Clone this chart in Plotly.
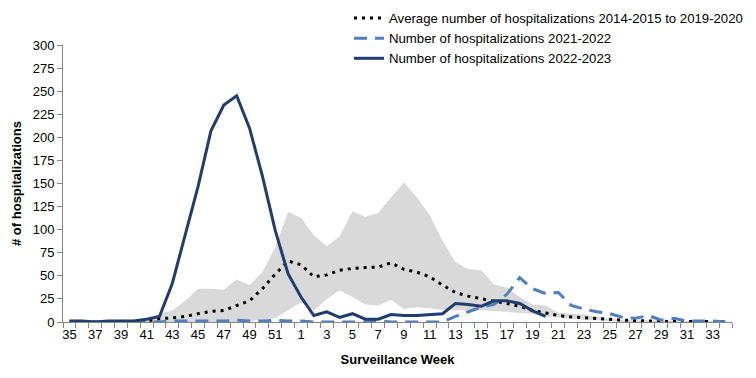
import plotly.graph_objects as go

weeks = [str(w) for w in list(range(35, 53)) + list(range(1, 35))]

avg_2014_2020 = [0, 0, 0, 0, 0, 0, 1, 3.5, 4.5, 6, 9, 11.5, 12.5, 18, 23, 36, 52, 66,
                 62, 49, 51, 56, 58, 59, 59.5, 64, 57, 54, 49, 40, 32, 28, 25, 22.5, 20, 17,
                 12.5, 9.5, 7, 5.5, 4.5, 3.3, 2.5, 2, 1.5, 1, 1, 0.5, 0.5, 0.5, 0.5, 0.5]

hosp_2021_2022 = [0, 0, 0, 0, 0, 0, 0, 0, 1, 1, 1, 1, 1, 2, 1, 1, 2, 1,
                  1, 0, 0, 0, 0, 0, 1, 0, 0, 0, 0, 0, 6, 11, 16, 19, 30, 48,
                  36, 31, 32, 18, 14, 11, 9, 5, 4, 7, 2, 4, 1, 1, 1, 0]

hosp_2022_2023 = [1, 1, 0, 1, 1, 1, 3, 6, 42, 93, 147, 207, 235, 245, 210, 158, 99, 52,
                  27, 7, 11, 5, 9, 3, 3, 8, 7, 7, 8, 9, 20, 19, 17, 23, 23, 20,
                  12, 6] + [None] * 14

band_max = [1, 1, 1, 1, 1, 2, 3, 9, 12.5, 23, 36, 36, 35, 46, 40, 54, 81, 119,
            113, 94, 82, 93, 120, 114, 118, 135, 151, 135, 116, 88, 65, 57, 56, 41, 37, 27,
            19, 18, 10, 9, 8, 6, 3.5, 2.5, 2, 1.5, 1.5, 1, 1, 1, 1, 1]

band_min = [0, 0, 0, 0, 0, 0, 0, 0, 0, 0, 0, 0, 0, 0, 1, 2.5, 4, 13,
            21, 12.5, 25, 34, 27, 19, 18, 24, 14, 16, 15, 13, 12.5, 13, 13, 12, 11, 10.5,
            9, 6, 4.5, 3.5, 2.5, 2, 1, 0, 0, 0, 0, 0, 0, 0, 0, 0]

y_ticks = list(range(0, 301, 25))
x_labels = [w if i % 2 == 0 else "" for i, w in enumerate(weeks)]

FONT = "Liberation Sans, Arial, sans-serif"
BAND = "#D9D9D9"

fig = go.Figure()
fig.add_trace(go.Scatter(x=weeks, y=band_min, mode="lines", line=dict(width=0, color=BAND),
                         showlegend=False, hoverinfo="skip"))
fig.add_trace(go.Scatter(x=weeks, y=band_max, mode="lines", line=dict(width=0, color=BAND),
                         fill="tonexty", fillcolor=BAND, showlegend=False, hoverinfo="skip"))
fig.add_trace(go.Scatter(x=weeks, y=avg_2014_2020, mode="lines",
                         name="Average number of hospitalizations 2014-2015 to 2019-2020",
                         line=dict(color="#000000", width=3, dash="3px,5px")))
fig.add_trace(go.Scatter(x=weeks, y=hosp_2021_2022, mode="lines",
                         name="Number of hospitalizations 2021-2022",
                         line=dict(color="#4F7FBE", width=3, dash="13px,8px")))
fig.add_trace(go.Scatter(x=weeks, y=hosp_2022_2023, mode="lines",
                         name="Number of hospitalizations 2022-2023",
                         line=dict(color="#1F3D6E", width=3)))

fig.update_layout(
    width=756, height=378,
    margin=dict(l=55, r=32, t=37, b=64, autoexpand=False),
    paper_bgcolor="white", plot_bgcolor="white",
    font=dict(family=FONT, size=13, color="#000000"),
    legend=dict(x=0.4275, y=1.152, xanchor="left", yanchor="top", traceorder="normal",
                font=dict(size=13.2, family=FONT), bgcolor="rgba(0,0,0,0)",
                tracegroupgap=0, itemwidth=30),
    xaxis=dict(type="category", categoryorder="array", categoryarray=weeks,
               tickmode="array", tickvals=weeks, ticktext=x_labels, tickangle=0,
               tickson="boundaries", ticks="outside", ticklen=5, tickcolor="#868686",
               showline=True, linecolor="#868686", linewidth=1, showgrid=False,
               tickfont=dict(size=13), range=[-0.5, 51.5],
               title=dict(text="<b>Surveillance Week</b>", font=dict(size=13), standoff=14)),
    yaxis=dict(range=[0, 300], tickmode="array", tickvals=y_ticks,
               ticks="outside", ticklen=5, tickcolor="#868686",
               showline=True, linecolor="#868686", linewidth=1, showgrid=False,
               zeroline=False, tickfont=dict(size=13),
               title=dict(text="<b># of hospitalizations</b>", font=dict(size=13), standoff=8)),
)

fig.write_html("out.html")
